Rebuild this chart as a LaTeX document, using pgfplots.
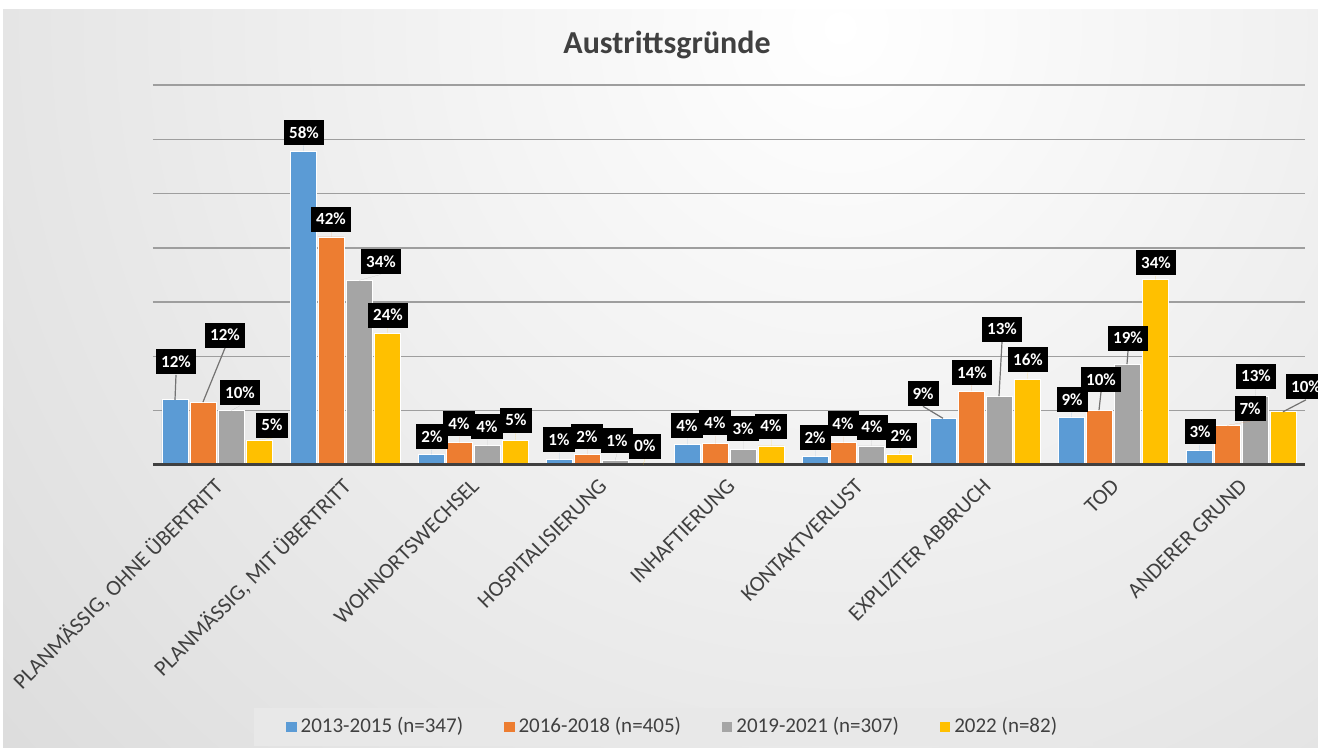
\documentclass[border=0pt]{standalone}
\usepackage{fontspec}
\setmainfont{Carlito}
\usepackage{pgfplots}
\usepackage{pgfplotstable}
\pgfplotsset{compat=1.18}
\definecolor{mblue}{HTML}{5B9BD5}
\definecolor{morange}{HTML}{ED7D31}
\definecolor{mgray}{HTML}{A5A5A5}
\definecolor{myellow}{HTML}{FFC000}
\definecolor{txt}{HTML}{404040}

% x = category, y = share in %, dx/dy = label offset (pt), lo = leader line
\pgfplotstableread{
x y dx dy lo
0 12.0 0.5 12.5 1
1 57.8 0.5 3 0
2 1.9 0.5 2.5 0
3 1.0 0 3.5 0
4 3.8 0 3 0
5 1.6 0 3 0
6 8.6 -10 6 1
7 8.8 0.5 2.5 0
8 2.6 0.5 3 0
}\serA
\pgfplotstableread{
x y dx dy lo
0 11.6 11 27 1
1 42.0 0 2.5 0
2 4.1 0 3 0
3 2.0 0 2.5 0
4 3.9 0 4 0
5 4.1 0 3 0
6 13.6 0.5 3 0
7 10.1 1 9 1
8 7.3 11.5 2 0
}\serB
\pgfplotstableread{
x y dx dy lo
0 10.0 4.5 2.5 0
1 34.0 11 3 0
2 3.6 0 3 0
3 0.8 1 3.5 0
4 2.9 0 4 0
5 3.5 0.5 3 0
6 12.7 1.5 27 1
7 18.6 0.5 6.5 1
8 12.7 0.5 3.5 0
}\serC
\pgfplotstableread{
x y dx dy lo
0 4.6 6.5 1 0
1 24.3 0.5 2.5 0
2 4.6 0.5 3.5 0
3 0.0 1 3 0
4 3.5 0 3.5 0
5 2.0 1 3 0
6 15.8 0.5 3.5 0
7 34.1 0.5 2 0
8 9.8 11.5 6 1
}\serD

\begin{document}
\begin{tikzpicture}
\useasboundingbox (0,0) rectangle (659pt,374pt);
\fill[white] (0,0) rectangle (659pt,374pt);
\begin{scope}
  \clip (1.5pt,0) rectangle (659pt,369pt);
  \shade[inner color=white, outer color=black!28] (420pt,360pt) circle (1150pt);
\end{scope}
\node[font=\bfseries\fontsize{16}{19}\selectfont, text=txt] at (333.5pt,351.5pt) {Austrittsgründe};
\begin{axis}[
  at={(76.5pt,141.5pt)}, anchor=south west,
  scale only axis, width=576pt, height=190pt,
  ybar=1pt, bar width=13pt,
  xmin=-0.5, xmax=8.5, ymin=0, ymax=70,
  clip=false,
  axis lines*=left,
  y axis line style={draw=none},
  x axis line style={draw=none},
  ytick={10,20,...,70}, yticklabels={},
  ymajorgrids, grid style={black!38, line width=0.7pt},
  major tick length=0pt,
  xtick={0,...,8},
  xticklabels={{PLANMÄSSIG, OHNE ÜBERTRITT}, {PLANMÄSSIG, MIT ÜBERTRITT}, WOHNORTSWECHSEL,
    HOSPITALISIERUNG, INHAFTIERUNG, KONTAKTVERLUST, EXPLIZITER ABBRUCH, TOD, ANDERER GRUND},
  xticklabel style={rotate=45, anchor=east, yshift=-7pt, xshift=-2pt, text=txt,
    font=\fontsize{11}{13}\selectfont},
  /pgf/number format/assume math mode=true,
  nodes near coords={\pgfmathprintnumber[fixed,precision=0]{\pgfplotspointmeta}\%},
  visualization depends on={\thisrow{dx} \as \dx},
  visualization depends on={\thisrow{dy} \as \dy},
  visualization depends on={\thisrow{lo} \as \lo},
  every node near coord/.append style={anchor=south, fill=black, text=white,
    font=\bfseries\fontsize{8.5}{10}\selectfont, inner xsep=2.5pt, inner ysep=0pt,
    minimum height=12.5pt, xshift={\dx*1pt}, yshift={\dy*1pt},
    append after command={(\tikzlastnode.south) edge[draw=black!55, line width=0.6pt, draw opacity=\lo]
      ++({-1*(\dx)*1pt},{-1*(\dy)*1pt})}},
  legend columns=4,
  legend image code/.code={\fill[#1, draw=none] (0pt,-2.6pt) rectangle (5.2pt,2.6pt);},
  legend style={at={(0.452,-0.689)}, anchor=center, draw=none, fill=black!9,
    text=txt, font=\fontsize{10.5}{12}\selectfont,
    inner xsep=16pt, inner ysep=3pt,
    /tikz/every even column/.append style={column sep=18.5pt}},
]
\addplot[fill=mblue, draw=white, line width=0.4pt] table[x=x, y=y] {\serA};
\addlegendentry{2013-2015 (n=347)}
\addplot[fill=morange, draw=white, line width=0.4pt] table[x=x, y=y] {\serB};
\addlegendentry{2016-2018 (n=405)}
\addplot[fill=mgray, draw=white, line width=0.4pt] table[x=x, y=y] {\serC};
\addlegendentry{2019-2021 (n=307)}
\addplot[fill=myellow, draw=white, line width=0.4pt] table[x=x, y=y] {\serD};
\addlegendentry{2022 (n=82)}
\draw[txt, line width=1.5pt] (axis cs:-0.5,0) -- (axis cs:8.5,0);
\end{axis}
\end{tikzpicture}
\end{document}
